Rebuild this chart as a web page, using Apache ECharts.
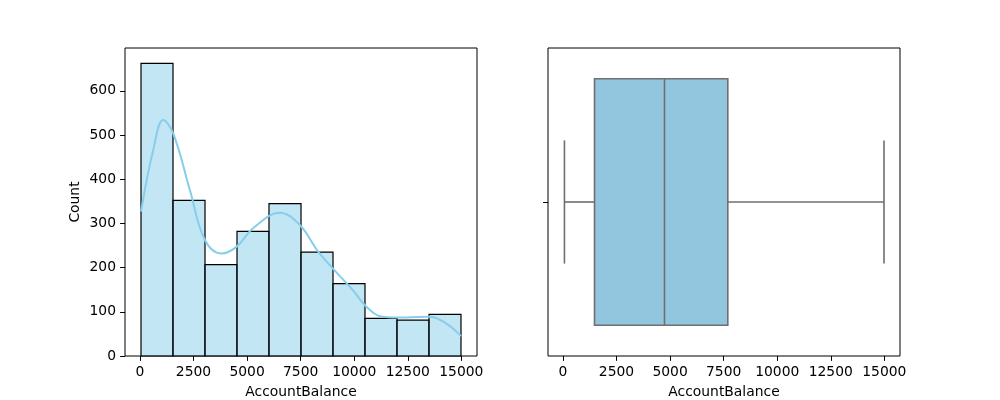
<!DOCTYPE html>
<html><head><meta charset="utf-8">
<script src="https://cdn.jsdelivr.net/npm/echarts@6/dist/echarts.min.js"></script>
<style>html,body{margin:0;padding:0;background:#fff}#c{width:1000px;height:400px}</style>
</head><body><div id="c"></div>
<script>
// ---- data ----
const binEdges = [50, 1543, 3037, 4530, 6023, 7517, 9010, 10503, 11997, 13490, 14983];
const binCounts = [662, 352, 207, 282, 345, 235, 164, 85, 81, 94];
const kdeX = [50, 620, 1086, 1552, 2329, 3027, 3804, 4503, 5280, 6521, 7452, 8384, 9936, 10557, 11333, 12420, 13507, 14283, 14983];
const kdeY = [327, 466, 534, 504, 376, 263, 232, 247, 289, 324, 297, 232, 149, 112, 89, 87, 89, 74, 45];
const boxStats = [70, 1474, 4739, 7694, 14983]; // min, Q1, median, Q3, max
const xTicks = [0, 2500, 5000, 7500, 10000, 12500, 15000];
const yTicks = [0, 100, 200, 300, 400, 500, 600];
const xLabel = 'AccountBalance';
const yLabel = 'Count';

const FONT = 'DejaVu Sans';
const FS = 13.89;
const xMin = -697, xMax = 15730;

const histData = binCounts.map((c, i) => [binEdges[i], binEdges[i + 1], c]);
const kdeData = kdeX.map((x, i) => [x, kdeY[i]]);
const plain = v => String(v);

function xAxisCfg(gridIndex) {
  return {
    type: 'value', gridIndex, min: xMin, max: xMax,
    name: xLabel, nameLocation: 'middle', nameGap: 29,
    nameTextStyle: { fontFamily: FONT, fontSize: FS, color: '#000' },
    axisLine: { show: false, onZero: false },
    axisTick: { show: true, length: 4.9, lineStyle: { color: '#000', width: 1 }, customValues: xTicks },
    axisLabel: { fontFamily: FONT, fontSize: FS, color: '#000', margin: 9, customValues: xTicks, formatter: plain },
    splitLine: { show: false }
  };
}

const chart = echarts.init(document.getElementById('c'), null, { renderer: 'canvas' });
chart.setOption({
  animation: false,
  backgroundColor: '#fff',
  grid: [
    { left: 125, right: 523, top: 48, bottom: 44, show: true, borderColor: '#000', borderWidth: 1, backgroundColor: 'transparent', outerBoundsMode: 'none', containLabel: false },
    { left: 548, right: 100, top: 48, bottom: 44, show: true, borderColor: '#000', borderWidth: 1, backgroundColor: 'transparent', outerBoundsMode: 'none', containLabel: false }
  ],
  xAxis: [xAxisCfg(0), xAxisCfg(1)],
  yAxis: [
    {
      type: 'value', gridIndex: 0, min: 0, max: 697,
      name: yLabel, nameLocation: 'middle', nameGap: 43,
      nameTextStyle: { fontFamily: FONT, fontSize: FS, color: '#000' },
      axisLine: { show: false, onZero: false },
      axisTick: { show: true, length: 4.9, lineStyle: { color: '#000', width: 1 }, customValues: yTicks },
      axisLabel: { fontFamily: FONT, fontSize: FS, color: '#000', margin: 9, customValues: yTicks, formatter: plain },
      splitLine: { show: false }
    },
    {
      type: 'value', gridIndex: 1, min: -0.5, max: 0.5, inverse: true,
      axisLine: { show: false, onZero: false },
      axisTick: { show: true, length: 4.9, lineStyle: { color: '#000', width: 1 }, customValues: [0] },
      axisLabel: { show: false },
      splitLine: { show: false }
    }
  ],
  series: [
    {
      type: 'custom', xAxisIndex: 0, yAxisIndex: 0, data: histData,
      encode: { x: [0, 1], y: 2 },
      renderItem(params, api) {
        const p0 = api.coord([api.value(0), api.value(2)]);
        const p1 = api.coord([api.value(1), 0]);
        return {
          type: 'rect',
          shape: { x: p0[0], y: p0[1], width: p1[0] - p0[0], height: p1[1] - p0[1] },
          style: { fill: 'rgba(135,206,235,0.5)', stroke: '#000', lineWidth: 1.2 }
        };
      }
    },
    {
      type: 'line', xAxisIndex: 0, yAxisIndex: 0, data: kdeData,
      smooth: 0.4, showSymbol: false, symbol: 'none',
      lineStyle: { color: '#87ceeb', width: 2 }, z: 5
    },
    {
      type: 'custom', xAxisIndex: 1, yAxisIndex: 1, data: [boxStats],
      encode: { x: [0, 1, 2, 3, 4] },
      renderItem(params, api) {
        const mn = api.value(0), q1 = api.value(1), md = api.value(2), q3 = api.value(3), mx = api.value(4);
        const c = (x, y) => api.coord([x, y]);
        const gray = '#6f6f6f';
        const ls = { stroke: gray, lineWidth: 1.6 };
        const tl = c(q1, -0.4), br = c(q3, 0.4);
        const line = (a, b) => ({ type: 'line', shape: { x1: a[0], y1: a[1], x2: b[0], y2: b[1] }, style: ls });
        return {
          type: 'group',
          children: [
            line(c(mn, 0), c(q1, 0)),
            line(c(q3, 0), c(mx, 0)),
            line(c(mn, -0.2), c(mn, 0.2)),
            line(c(mx, -0.2), c(mx, 0.2)),
            { type: 'rect', shape: { x: tl[0], y: tl[1], width: br[0] - tl[0], height: br[1] - tl[1] },
              style: { fill: '#92c6de', stroke: gray, lineWidth: 1.6 } },
            line(c(md, -0.4), c(md, 0.4))
          ]
        };
      }
    }
  ]
});
</script></body></html>
